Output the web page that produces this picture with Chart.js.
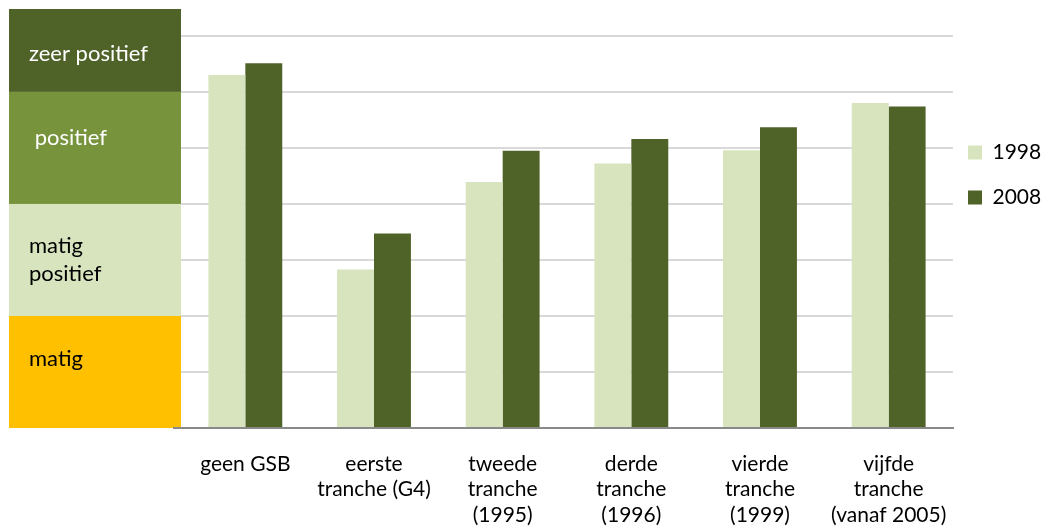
<!DOCTYPE html>
<html>
<head>
<meta charset="utf-8">
<script src="https://cdn.jsdelivr.net/npm/chart.js@4.4.1/dist/chart.umd.min.js"></script>
<style>
  html, body { margin: 0; padding: 0; background: #fff; }
  #wrap { width: 1044px; height: 531px; position: relative; }
</style>
</head>
<body>
<div id="wrap"><canvas id="myChart"></canvas></div>
<script>
// categorieen en scores
const categories = [
    ['geen GSB'],
    ['eerste', 'tranche (G4)'],
    ['tweede', 'tranche', '(1995)'],
    ['derde', 'tranche', '(1996)'],
    ['vierde', 'tranche', '(1999)'],
    ['vijfde', 'tranche', '(vanaf 2005)']
];
const values1998 = [6.30, 2.83, 4.39, 4.72, 4.96, 5.80];
const values2008 = [6.51, 3.47, 4.95, 5.16, 5.37, 5.74];

// banden links (oordeel)
const bandLabels = [['matig'], ['matig', 'positief'], [' positief'], ['zeer positief']];
const bandEdges = [0, 2, 4, 6, 7.48];
const bandColors = ['#FFC000', '#D7E4BD', '#77933C', '#4F6228'];
const bandTextColors = ['#000000', '#000000', '#FFFFFF', '#FFFFFF'];

const FONT = 'Lato, "Open Sans", sans-serif';
Chart.defaults.font.family = FONT;
Chart.defaults.font.size = 21;
Chart.defaults.color = '#000';

// waar de tekst in elke band staat (in schaalwaarden)
const bandTextAt = [1.23, 3.0, 5.18, 6.68];

const bandPlugin = {
    id: 'bands',
    afterLayout(chart) {
        // legenda iets naar links en breder, zodat de tekst past
        const lg = chart.legend;
        lg.left = chart.chartArea.right - 9;
        lg.right = chart.width;
        lg.width = lg.right - lg.left;
    },
    beforeDatasetsDraw(chart) {
        const c = chart.ctx;
        const y = chart.scales.y;
        const left = 9;
        const right = chart.chartArea.left;
        c.save();
        for (let i = 0; i < bandColors.length; i++) {
            const top = y.getPixelForValue(bandEdges[i + 1]);
            const bottom = y.getPixelForValue(bandEdges[i]);
            c.fillStyle = bandColors[i];
            c.fillRect(left, top, right - left, bottom - top);
        }
        // grijze basislijn loopt iets door onder de banden
        c.fillStyle = '#898989';
        c.fillRect(173, chart.chartArea.bottom - 1, right - 173, 2);
        c.font = '22px ' + FONT;
        c.textBaseline = 'middle';
        c.textAlign = 'left';
        for (let i = 0; i < bandLabels.length; i++) {
            const lines = bandLabels[i];
            const cy = y.getPixelForValue(bandTextAt[i]);
            const lh = 28;
            c.fillStyle = bandTextColors[i];
            lines.forEach((t, k) => {
                c.fillText(t, 29, cy + (k - (lines.length - 1) / 2) * lh);
            });
        }
        c.restore();
    }
};

const ctx = document.getElementById('myChart').getContext('2d');
const myChart = new Chart(ctx, {
    type: 'bar',
    data: {
        labels: categories,
        datasets: [
            {
                label: '1998',
                data: values1998,
                backgroundColor: '#D7E4BD',
                borderWidth: 0
            },
            {
                label: '2008',
                data: values2008,
                backgroundColor: '#4F6228',
                borderWidth: 0
            }
        ]
    },
    options: {
        responsive: true,
        maintainAspectRatio: false,
        animation: false,
        datasets: {
            bar: {
                categoryPercentage: 0.574,
                barPercentage: 1.0
            }
        },
        scales: {
            x: {
                grid: { display: false, drawTicks: false },
                border: { display: true, color: '#898989', width: 2 },
                ticks: {
                    padding: 23,
                    maxRotation: 0,
                    autoSkip: false,
                    color: '#000',
                    font: { size: 21, lineHeight: 1.22 }
                },
                afterFit(scale) { scale.height = 103; }
            },
            y: {
                min: 0,
                max: 7.48,
                ticks: { display: false, stepSize: 1 },
                afterBuildTicks(scale) {
                    scale.ticks = scale.ticks.filter(t => Number.isInteger(t.value));
                },
                grid: {
                    drawTicks: false,
                    lineWidth: 2,
                    color: (c) => (c.tick && c.tick.value === 0) ? 'rgba(0,0,0,0)' : '#D9D9D9'
                },
                border: { display: false },
                afterFit(scale) { scale.width = 172; }
            }
        },
        plugins: {
            legend: {
                position: 'right',
                align: 'start',
                maxWidth: 91,
                title: {
                    display: true,
                    text: '',
                    font: { size: 10 },
                    padding: { top: 97, bottom: 0 }
                },
                labels: {
                    boxWidth: 14,
                    boxHeight: 14,
                    padding: 24,
                    color: '#000',
                    font: { size: 21 }
                }
            },
            tooltip: { enabled: false }
        },
        layout: {
            padding: { left: 9, right: 0, top: 9, bottom: 0 }
        }
    },
    plugins: [bandPlugin]
});
</script>
</body>
</html>
